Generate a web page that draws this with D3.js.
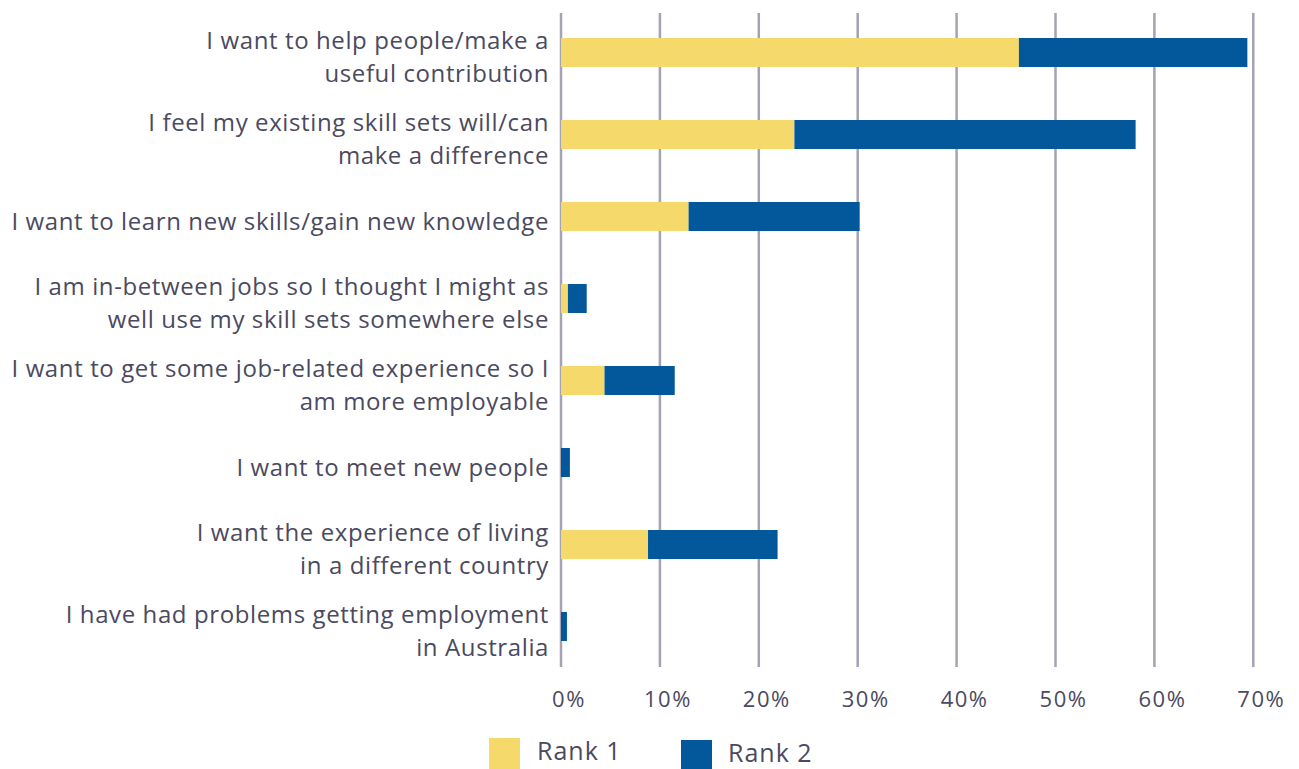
<!DOCTYPE html>
<html>
<head>
<meta charset="utf-8">
<script src="https://cdn.jsdelivr.net/npm/d3@7"></script>
<style>
  html, body { margin: 0; padding: 0; background: #ffffff; }
  svg { display: block; }
  text { font-family: "Open Sans", "Noto Sans", sans-serif; fill: #4b4a5f; }
</style>
</head>
<body>
<svg id="chart" width="1299" height="769"></svg>
<script>
// Reasons for volunteering, ranked first and second (% of respondents)
const categories = [
  ["I want to help people/make a", "useful contribution"],
  ["I feel my existing skill sets will/can", "make a difference"],
  ["I want to learn new skills/gain new knowledge"],
  ["I am in-between jobs so I thought I might as", "well use my skill sets somewhere else"],
  ["I want to get some job-related experience so I", "am more employable"],
  ["I want to meet new people"],
  ["I want the experience of living", "in a different country"],
  ["I have had problems getting employment", "in Australia"]
];
const rank1 = [46.3, 23.6, 12.9, 0.7, 4.4, 0, 8.8, 0];
const rank2 = [23.1, 34.5, 17.3, 1.9, 7.1, 0.9, 13.1, 0.6];
const tickValues = [0, 10, 20, 30, 40, 50, 60, 70];
const seriesNames = ["Rank 1", "Rank 2"];
const seriesColors = ["#f5d96a", "#02589a"];

const svg = d3.select("#chart");

const x = d3.scaleLinear().domain([0, 70]).range([561, 1253.3]);
const y = d3.scaleBand()
  .domain(d3.range(categories.length))
  .range([11.5, 667.5])
  .paddingInner(53 / 82)
  .paddingOuter(53 / 164);

// vertical gridlines
svg.append("g").selectAll("line")
  .data(tickValues)
  .join("line")
  .attr("x1", d => x(d)).attr("x2", d => x(d))
  .attr("y1", 13).attr("y2", 667)
  .attr("stroke", "#a4a2b3")
  .attr("stroke-width", 2.5);

// stacked bars
const rows = categories.map((c, i) => ({ i, r1: rank1[i], r2: rank2[i] }));
const stack = d3.stack().keys(["r1", "r2"]);
const layers = stack(rows);

svg.append("g").selectAll("g")
  .data(layers)
  .join("g")
  .attr("fill", (d, k) => seriesColors[k])
  .selectAll("rect")
  .data(d => d)
  .join("rect")
  .attr("x", d => x(d[0]))
  .attr("width", d => Math.max(0, x(d[1]) - x(d[0])))
  .attr("y", d => y(d.data.i))
  .attr("height", y.bandwidth());

// category labels, right aligned against the axis
const labels = svg.append("g")
  .attr("font-size", 24)
  .attr("text-anchor", "end");

const lineGap = 32.5;
categories.forEach((lines, i) => {
  const cy = y(i) + y.bandwidth() / 2;
  lines.forEach((ln, j) => {
    labels.append("text")
      .attr("class", "cat")
      .attr("x", 549)
      .attr("y", lines.length === 1 ? cy + 13 : cy - 3.25 + j * lineGap)
      .text(ln);
  });
});

// widen the face slightly so the longest label spans the same room
const probe = labels.selectAll("text.cat").filter(function () {
  return this.textContent === "I want to learn new skills/gain new knowledge";
}).node();
if (probe) {
  const w = probe.getComputedTextLength();
  const n = probe.textContent.length;
  labels.attr("letter-spacing", ((537 - w) / (n - 1)).toFixed(3));
}

// x tick labels
svg.append("g")
  .attr("font-size", 22)
  .attr("letter-spacing", 1.5)
  .attr("text-anchor", "middle")
  .selectAll("text")
  .data(tickValues)
  .join("text")
  .attr("x", d => x(d) + 8)
  .attr("y", 707)
  .text(d => d + "%");

// legend
const legendItems = [
  { name: seriesNames[0], color: seriesColors[0], rx: 489, ry: 738, tx: 537, ty: 760 },
  { name: seriesNames[1], color: seriesColors[1], rx: 681, ry: 740, tx: 728, ty: 762 }
];
const legend = svg.append("g");
legend.selectAll("rect")
  .data(legendItems)
  .join("rect")
  .attr("x", d => d.rx).attr("y", d => d.ry)
  .attr("width", 31).attr("height", 31)
  .attr("fill", d => d.color);
legend.selectAll("text")
  .data(legendItems)
  .join("text")
  .attr("x", d => d.tx).attr("y", d => d.ty)
  .attr("font-size", 25)
  .attr("letter-spacing", 1)
  .text(d => d.name);
</script>
</body>
</html>
